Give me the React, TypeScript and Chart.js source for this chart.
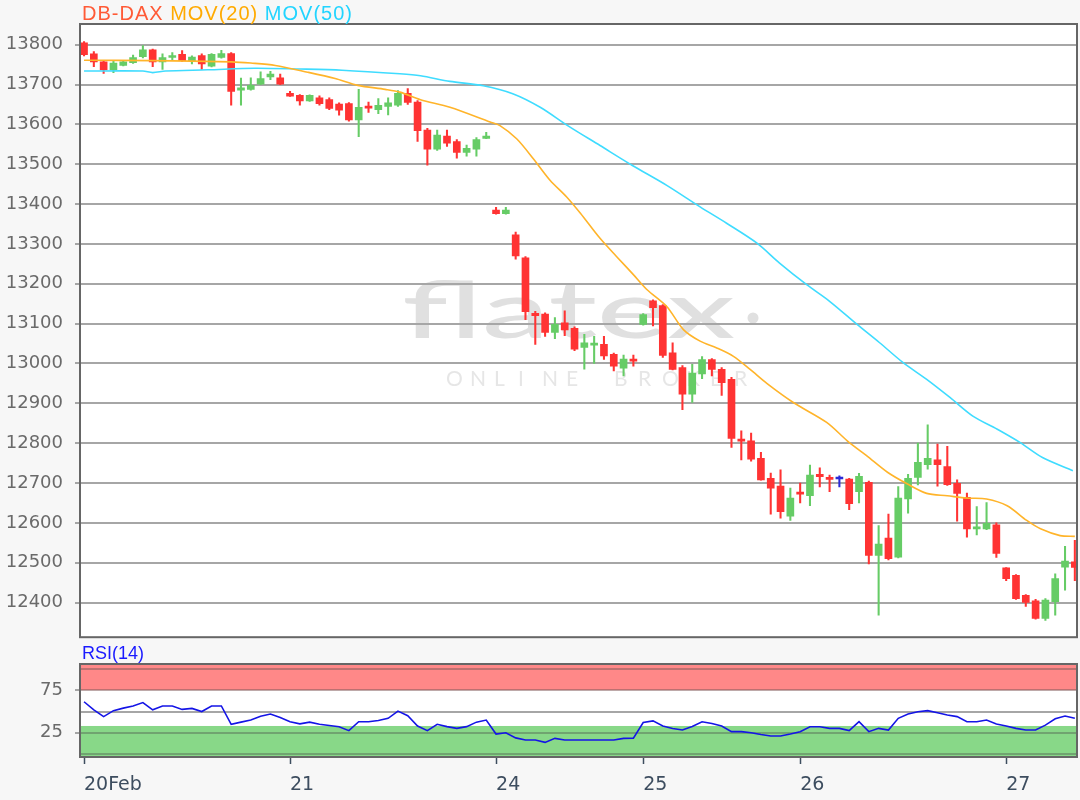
import React, { useEffect, useRef } from 'react';
import { Chart, registerables } from 'chart.js';

Chart.register(...registerables);

// ---------- data (30-minute candles, index 0..101) ----------
const OPEN = [
  13805, 13777, 13757, 13737, 13748, 13755, 13770, 13787, 13757, 13768,
  13776, 13760, 13773, 13746, 13768, 13778, 13686, 13688, 13701, 13719,
  13717, 13678, 13673, 13659, 13667, 13662, 13651, 13652, 13611, 13645,
  13637, 13645, 13648, 13678, 13656, 13586, 13538, 13571, 13557, 13530,
  13538, 13565, 13385, 13376, 13323, 13265, 13126, 13124, 13078, 13102,
  13088, 13040, 13046, 13048, 13023, 12988, 13010, 13098, 13157, 13145,
  13027, 12990, 12923, 12974, 13010, 12985, 12960, 12810, 12806, 12762,
  12712, 12692, 12617, 12677, 12668, 12722, 12713, 12710, 12710, 12678,
  12702, 12518, 12562, 12514, 12660, 12714, 12746, 12758, 12741, 12699,
  12664, 12585, 12585, 12595, 12487, 12468, 12418, 12404, 12360, 12402,
  12489, 12502,
];
const HIGH = [
  13808, 13783, 13758, 13760, 13758, 13774, 13798, 13789, 13777, 13780,
  13785, 13772, 13777, 13778, 13786, 13780, 13716, 13717, 13732, 13733,
  13726, 13683, 13675, 13674, 13672, 13667, 13654, 13655, 13688, 13656,
  13665, 13667, 13685, 13690, 13660, 13590, 13586, 13586, 13562, 13548,
  13567, 13580, 13392, 13392, 13330, 13268, 13131, 13127, 13115, 13132,
  13092, 13073, 13068, 13068, 13026, 13021, 13021, 13125, 13160, 13148,
  13052, 12995, 12998, 13017, 13012, 12990, 12965, 12831, 12825, 12777,
  12725, 12733, 12687, 12700, 12745, 12738, 12720, 12718, 12712, 12724,
  12705, 12593, 12622, 12691, 12722, 12800, 12846, 12798, 12792, 12708,
  12675, 12641, 12651, 12600, 12488, 12470, 12420, 12408, 12410, 12472,
  12541, 12556,
];
const LOW = [
  13772, 13745, 13728, 13730, 13747, 13753, 13767, 13745, 13738, 13760,
  13758, 13752, 13738, 13744, 13766, 13648, 13648, 13686, 13700, 13712,
  13700, 13670, 13648, 13658, 13648, 13637, 13623, 13608, 13569, 13630,
  13627, 13624, 13645, 13650, 13557, 13498, 13535, 13545, 13515, 13520,
  13520, 13564, 13375, 13375, 13262, 13110, 13048, 13068, 13062, 13070,
  13032, 12986, 13000, 13010, 12981, 12969, 12993, 13096, 13094, 13015,
  12984, 12884, 12902, 12962, 12969, 12920, 12789, 12758, 12755, 12707,
  12622, 12612, 12606, 12650, 12643, 12690, 12678, 12690, 12633, 12650,
  12497, 12368, 12507, 12512, 12624, 12695, 12735, 12692, 12694, 12604,
  12564, 12570, 12583, 12513, 12455, 12408, 12390, 12358, 12355, 12368,
  12431, 12455,
];
const CLOSE = [
  13775, 13757, 13737, 13754, 13757, 13768, 13787, 13757, 13768, 13773,
  13760, 13769, 13752, 13776, 13778, 13683, 13692, 13698, 13715, 13726,
  13701, 13671, 13659, 13673, 13652, 13640, 13636, 13611, 13643, 13641,
  13648, 13654, 13678, 13655, 13584, 13538, 13573, 13553, 13530, 13540,
  13562, 13571, 13376, 13385, 13270, 13130, 13120, 13078, 13098, 13084,
  13036, 13052, 13049, 13019, 12993, 13011, 13006, 13123, 13140, 13020,
  12985, 12923, 12976, 13010, 12985, 12952, 12812, 12805, 12760, 12708,
  12687, 12628, 12662, 12672, 12720, 12716, 12709, 12710, 12648, 12717,
  12518, 12547, 12510, 12662, 12712, 12752, 12762, 12746, 12696, 12674,
  12585, 12588, 12599, 12523, 12460, 12410, 12400, 12360, 12406, 12460,
  12504, 12488,
];

// moving averages (candle index -> value)
const MA20_X = [
  0, 7, 15, 17, 19.5, 22.8, 25.6, 27.9, 30.7, 32.2, 34.3, 37.3, 41.4, 42.4,
  44.1, 45.8, 47.5, 49.2, 50.6, 52.6, 54.3, 56.0, 57.4, 59.4, 61.1, 62.8,
  64.5, 66.2, 67.9, 69.6, 72.3, 75.7, 77.8, 79.8, 81.9, 83.9, 85.9, 88.0,
  90.0, 92.0, 94.1, 96.1, 97.5, 99.5, 101.0,
];
const MA20 = [
  13761, 13760, 13757, 13754, 13748, 13731, 13715, 13698, 13688, 13681, 13662,
  13643, 13606, 13597, 13564, 13514, 13460, 13418, 13377, 13314, 13268, 13223,
  13185, 13143, 13085, 13056, 13039, 13018, 12985, 12950, 12902, 12852, 12806,
  12768, 12727, 12698, 12674, 12668, 12662, 12660, 12643, 12606, 12585, 12568,
  12566,
];
const MA50_X = [
  0, 6.0, 7.0, 8.3, 12.6, 17.4, 22.0, 26.3, 32.2, 34.3, 37.3, 40.7, 43.7,
  46.5, 49.3, 52.6, 55.9, 59.4, 62.8, 65.5, 68.6, 70.9, 73.7, 76.0, 78.8,
  81.1, 83.5, 85.9, 88.3, 90.6, 93.1, 95.4, 97.7, 100.8,
];
const MA50 = [
  13734, 13734, 13730, 13734, 13737, 13741, 13739, 13736, 13727, 13722, 13708,
  13697, 13677, 13643, 13597, 13547, 13497, 13447, 13393, 13352, 13302, 13252,
  13197, 13156, 13098, 13052, 13002, 12960, 12914, 12868, 12835, 12802, 12764,
  12731,
];

const RSI = [
  61.5, 52, 44, 51, 54, 56.5, 60.5, 52, 56.5, 56.5,
  52.5, 53.7, 50, 56.5, 56.5, 35, 37.5, 40, 44.5, 47,
  43, 38, 35.5, 37.5, 35, 33.5, 32, 27.5, 38, 38,
  39.5, 42, 50.5, 45, 33, 27.5, 35, 32.2, 30.2, 32.2,
  37.5, 40, 23.5, 25, 19, 16.5, 16.5, 13.7, 18.4, 16.5,
  16.5, 16.5, 16.5, 16.5, 16.5, 18.4, 18.5, 37, 39, 33,
  30, 28.3, 32.5, 38, 36, 33, 26.3, 26.3, 25.1, 23,
  21.2, 21.2, 23.5, 26.3, 32, 32, 30.2, 30.2, 27.5, 38,
  26.3, 30.2, 28.2, 42, 47, 49.8, 51, 48.6, 46, 44,
  38, 38, 40, 35.3, 33, 30.2, 28.2, 28.2, 34, 41.5,
  44.7, 42,
];

const DAY_INDEX = [0, 21, 42, 57, 73, 94];
const DAY_LABELS = ['20Feb', '21', '24', '25', '26', '27'];
const PRICE_TICKS = [12400, 12500, 12600, 12700, 12800, 12900, 13000, 13100, 13200, 13300, 13400, 13500, 13600, 13700, 13800];
const RSI_TICKS = [0, 25, 50, 75, 100];
const RSI_LABELED = [25, 75];

// ---------- styling constants ----------
const X_MIN = -0.41;
const X_MAX = 101.22;
const UP = '#66cc66';
const DOWN = '#ff3333';
const FLAT = '#2a2ad8';
const PAGE_BG = '#f7f7f7';
const FRAME = '#666666';

const candleColor = (i: number) =>
  CLOSE[i] > OPEN[i] ? UP : CLOSE[i] < OPEN[i] ? DOWN : FLAT;

const backgroundPlugin = (watermark: boolean, bands: boolean) => ({
  id: 'bg' + (watermark ? 'w' : '') + (bands ? 'b' : ''),
  beforeDraw(chart: any) {
    const { ctx, chartArea: a, width, height } = chart;
    ctx.save();
    ctx.fillStyle = PAGE_BG;
    ctx.fillRect(0, 0, width, height);
    ctx.fillStyle = '#ffffff';
    ctx.fillRect(a.left, a.top, a.right - a.left, a.bottom - a.top);
    if (bands) {
      const y = chart.scales.y;
      const y75 = y.getPixelForValue(75);
      const y33 = y.getPixelForValue(33);
      ctx.fillStyle = '#ff8888';
      ctx.fillRect(a.left, a.top, a.right - a.left, y75 - a.top);
      ctx.fillStyle = '#88d888';
      ctx.fillRect(a.left, y33, a.right - a.left, a.bottom - y33);
    }
    if (watermark) {
      ctx.fillStyle = '#e0e0e0';
      ctx.font = '500 80px Lato';
      ctx.textBaseline = 'alphabetic';
      const txt = 'flatex';
      const w = ctx.measureText(txt).width;
      ctx.save();
      ctx.translate(402, 338);
      ctx.scale(333 / w, 1);
      ctx.fillText(txt, 0, 0);
      ctx.restore();
      ctx.beginPath();
      ctx.arc(753, 318, 5.5, 0, Math.PI * 2);
      ctx.fill();
      ctx.fillStyle = '#e6e6e6';
      ctx.font = '21px Lato';
      const sub = 'ONLINE BROKER';
      for (let k = 0; k < sub.length; k++) {
        ctx.fillText(sub[k], 446 + k * 24, 386);
      }
    }
    ctx.restore();
  },
  afterDraw(chart: any) {
    const { ctx, chartArea: a } = chart;
    ctx.save();
    ctx.strokeStyle = FRAME;
    ctx.lineWidth = 2;
    ctx.strokeRect(a.left, a.top, a.right - a.left, a.bottom - a.top);
    ctx.restore();
  },
});

function MainChart() {
  const ref = useRef<HTMLCanvasElement>(null);
  useEffect(() => {
    if (!ref.current) return;
    const idx = OPEN.map((_, i) => i);
    const colors = idx.map(candleColor);
    const chart = new Chart(ref.current, {
      type: 'bar',
      data: {
        datasets: [
          {
            type: 'line',
            data: MA20_X.map((x, k) => ({ x, y: MA20[k] })),
            borderColor: '#ffb42a',
            borderWidth: 1.6,
            pointRadius: 0,
            tension: 0.3,
            order: 0,
          } as any,
          {
            type: 'line',
            data: MA50_X.map((x, k) => ({ x, y: MA50[k] })),
            borderColor: '#3fdcff',
            borderWidth: 1.6,
            pointRadius: 0,
            tension: 0.3,
            order: 0,
          } as any,
          {
            type: 'bar',
            data: idx.map((i) => ({ x: i, y: [OPEN[i], CLOSE[i]] })),
            backgroundColor: colors,
            barThickness: 7,
            minBarLength: 2,
            grouped: false,
            order: 1,
          } as any,
          {
            type: 'bar',
            data: idx.map((i) => ({ x: i, y: [LOW[i], HIGH[i]] })),
            backgroundColor: colors,
            barThickness: 1.4,
            grouped: false,
            order: 2,
          } as any,
        ],
      },
      options: {
        animation: false,
        responsive: false,
        devicePixelRatio: 1,
        events: [],
        layout: { padding: { top: 24, right: 3, bottom: 3, left: 0 } },
        plugins: { legend: { display: false }, tooltip: { enabled: false } },
        scales: {
          x: {
            type: 'linear',
            display: false,
            min: X_MIN,
            max: X_MAX,
            offset: false,
          },
          y: {
            type: 'linear',
            min: 12313,
            max: 13852,
            afterBuildTicks: (s: any) => {
              s.ticks = PRICE_TICKS.map((v) => ({ value: v }));
            },
            afterFit: (s: any) => {
              s.width = 80;
            },
            border: { display: false },
            grid: {
              color: '#a6a6a6',
              lineWidth: 2,
              tickLength: 5,
              tickWidth: 1,
              tickColor: '#555555',
            },
            ticks: {
              autoSkip: false,
              color: '#6a6a6a',
              padding: 12,
              font: { family: 'DejaVu Sans', size: 18 },
              callback: (v: any) => String(v),
            },
          },
        },
      } as any,
      plugins: [backgroundPlugin(true, false)],
    });
    return () => chart.destroy();
  }, []);
  // canvas is 660 tall: the y-axis label padding (~23px) defines the plot's bottom edge at 637
  return (
    <canvas
      ref={ref}
      width={1080}
      height={660}
      style={{ position: 'absolute', left: 0, top: 0, width: 1080, height: 660 }}
    />
  );
}

function RsiChart() {
  const ref = useRef<HTMLCanvasElement>(null);
  useEffect(() => {
    if (!ref.current) return;
    const chart = new Chart(ref.current, {
      type: 'line',
      data: {
        datasets: [
          {
            data: RSI.map((v, i) => ({ x: i, y: v })),
            borderColor: '#1414e6',
            borderWidth: 1.6,
            pointRadius: 0,
            tension: 0,
          },
        ],
      },
      options: {
        animation: false,
        responsive: false,
        devicePixelRatio: 1,
        events: [],
        layout: { padding: { top: 24, right: 3, bottom: 0, left: 0 } },
        plugins: { legend: { display: false }, tooltip: { enabled: false } },
        scales: {
          x: {
            type: 'linear',
            min: X_MIN,
            max: X_MAX,
            offset: false,
            afterBuildTicks: (s: any) => {
              s.ticks = DAY_INDEX.map((v) => ({ value: v }));
            },
            afterFit: (s: any) => {
              s.height = 43;
            },
            border: { display: false },
            grid: {
              drawOnChartArea: false,
              tickLength: 7,
              tickWidth: 1.5,
              tickColor: '#3d4d5f',
            },
            ticks: {
              autoSkip: false,
              maxRotation: 0,
              align: 'start',
              padding: 10,
              color: '#3d4d5f',
              font: { family: 'DejaVu Sans', size: 19 },
              callback: (_v: any, i: number) => DAY_LABELS[i],
            },
          },
          y: {
            type: 'linear',
            min: -3.5,
            max: 105.9,
            afterBuildTicks: (s: any) => {
              s.ticks = RSI_TICKS.map((v) => ({ value: v }));
            },
            afterFit: (s: any) => {
              s.width = 80;
            },
            border: { display: false },
            grid: {
              color: (c: any) => (c.tick && c.tick.value === 50 ? '#a6a6a6' : 'rgba(70,70,70,0.35)'),
              lineWidth: 2,
              tickLength: 5,
              tickWidth: 1,
              tickColor: (c: any) =>
                c.tick && RSI_LABELED.includes(c.tick.value) ? '#555555' : 'rgba(0,0,0,0)',
            },
            ticks: {
              autoSkip: false,
              color: '#6a6a6a',
              padding: 12,
              font: { family: 'DejaVu Sans', size: 18 },
              callback: (v: any) => (RSI_LABELED.includes(Number(v)) ? String(v) : ''),
            },
          },
        },
      } as any,
      plugins: [backgroundPlugin(false, true)],
    });
    return () => chart.destroy();
  }, []);
  return (
    <canvas
      ref={ref}
      width={1080}
      height={160}
      style={{ position: 'absolute', left: 0, top: 640, width: 1080, height: 160 }}
    />
  );
}

export default function App() {
  return (
    <div
      style={{
        position: 'fixed',
        left: 0,
        top: 0,
        width: 1080,
        height: 800,
        background: PAGE_BG,
        overflow: 'hidden',
      }}
    >
      <MainChart />
      <RsiChart />
      <div
        style={{
          position: 'absolute',
          left: 82,
          top: 1,
          font: '20px "Liberation Sans", Arial, sans-serif',
          letterSpacing: '1px',
          whiteSpace: 'nowrap',
          lineHeight: '24px',
        }}
      >
        <span style={{ color: '#ff5a36' }}>DB-DAX</span>{' '}
        <span style={{ color: '#ffaa00' }}>MOV(20)</span>{' '}
        <span style={{ color: '#22d4ff' }}>MOV(50)</span>
      </div>
      <div
        style={{
          position: 'absolute',
          left: 82,
          top: 642,
          font: '18px "Liberation Sans", Arial, sans-serif',
          color: '#1a1aff',
          whiteSpace: 'nowrap',
          lineHeight: '22px',
        }}
      >
        RSI(14)
      </div>
    </div>
  );
}
